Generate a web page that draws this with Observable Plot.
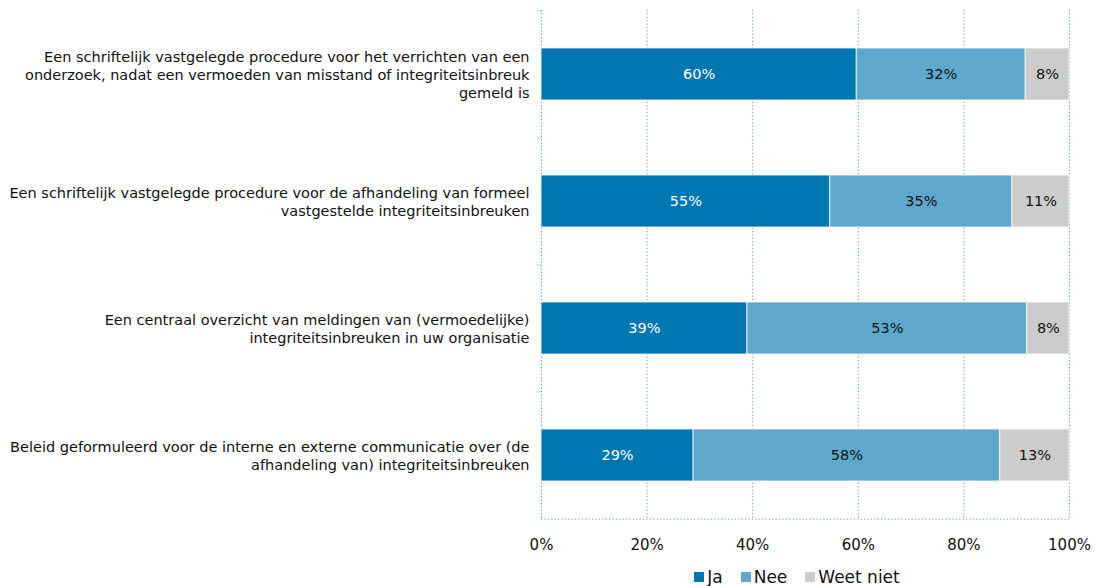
<!DOCTYPE html>
<html><head><meta charset="utf-8">
<script src="https://cdn.jsdelivr.net/npm/d3@7"></script>
<script src="https://cdn.jsdelivr.net/npm/@observablehq/plot@0.6"></script>
<style>
body{margin:0;background:#fff;font-family:"DejaVu Sans",sans-serif;}
#legend{display:flex;justify-content:center;align-items:center;height:23px;font-size:17px;color:#111;margin-left:533px;width:528px;padding-top:2px;}
#legend .item{display:flex;align-items:center;margin:0 9px;}
#legend .sw{width:10px;height:10px;margin-right:3px;}
</style></head><body><div id="chart"></div><div id="legend"></div><script>
const categories = [
  "Een schriftelijk vastgelegde procedure voor het verrichten van een\nonderzoek, nadat een vermoeden van misstand of integriteitsinbreuk\ngemeld is",
  "Een schriftelijk vastgelegde procedure voor de afhandeling van formeel\nvastgestelde integriteitsinbreuken",
  "Een centraal overzicht van meldingen van (vermoedelijke)\nintegriteitsinbreuken in uw organisatie",
  "Beleid geformuleerd voor de interne en externe communicatie over (de\nafhandeling van) integriteitsinbreuken"
];
const series = ["Ja", "Nee", "Weet niet"];
const ja = [59.7, 54.7, 39.0, 28.8];
const nee = [32.0, 34.5, 53.0, 58.1];
const weetNiet = [8.3, 10.8, 8.0, 13.1];
const xTicks = [0, 20, 40, 60, 80, 100];
const colors = ["#0077b3", "#5ea8cc", "#cccccc"];

const seriesValues = [ja, nee, weetNiet];
const data = [];
categories.forEach((c, i) => series.forEach((s, j) => data.push({category: c, series: s, value: seriesValues[j][i]})));

const marginTop = 10, marginBottom = 44, H = 563;
const step = (H - marginTop - marginBottom) / categories.length;
const grid = "#4fa0d0";
const fmt = d => Math.round(d.value) + "%";

const chart = Plot.plot({
  width: 1095, height: H,
  marginLeft: 541, marginRight: 26, marginTop, marginBottom,
  style: {fontFamily: "DejaVu Sans, sans-serif", background: "white"},
  x: {domain: [0, 100], ticks: xTicks, tickFormat: d => d + "%"},
  y: {domain: categories, paddingInner: 0.59, paddingOuter: 0.295},
  color: {domain: series, range: colors},
  marks: [
    Plot.ruleX(xTicks, {stroke: grid, strokeDasharray: "1.2,2.2", strokeWidth: 1}),
    Plot.ruleY([categories[categories.length - 1]], {dy: step / 2, x1: 0, x2: 100, stroke: grid, strokeDasharray: "1.2,2.2"}),
    Plot.ruleY(categories, {dy: -step / 2, x1: -0.7, x2: 0, stroke: grid, strokeDasharray: "1,1.5"}),
    Plot.barX(data, Plot.stackX({x: "value", y: "category", fill: "series", stroke: "white", strokeWidth: 0.8, order: series})),
    Plot.text(data, Plot.stackX({x: "value", y: "category", z: "series", order: series, text: d => d.series === "Ja" ? fmt(d) : "", fill: "white", fontSize: 14.5})),
    Plot.text(data, Plot.stackX({x: "value", y: "category", z: "series", order: series, text: d => d.series !== "Ja" ? fmt(d) : "", fill: "#111", fontSize: 14.5})),
    Plot.text(categories, {x: 0, y: d => d, text: d => d, dx: -12, textAnchor: "end", lineHeight: 1.24, fontSize: 14.5, fill: "#111"}),
    Plot.axisX({ticks: xTicks, tickFormat: d => d + "%", tickSize: 0, tickPadding: 20, fontSize: 15, color: "#111", label: null}),
    Plot.axisY({ticks: [], label: null, tickSize: 0})
  ]
});
document.getElementById("chart").appendChild(chart);

const legend = document.getElementById("legend");
series.forEach((s, i) => {
  const it = document.createElement("div");
  it.className = "item";
  it.innerHTML = `<span class="sw" style="background:${colors[i]}"></span><span>${s}</span>`;
  legend.appendChild(it);
});
</script></body></html>
